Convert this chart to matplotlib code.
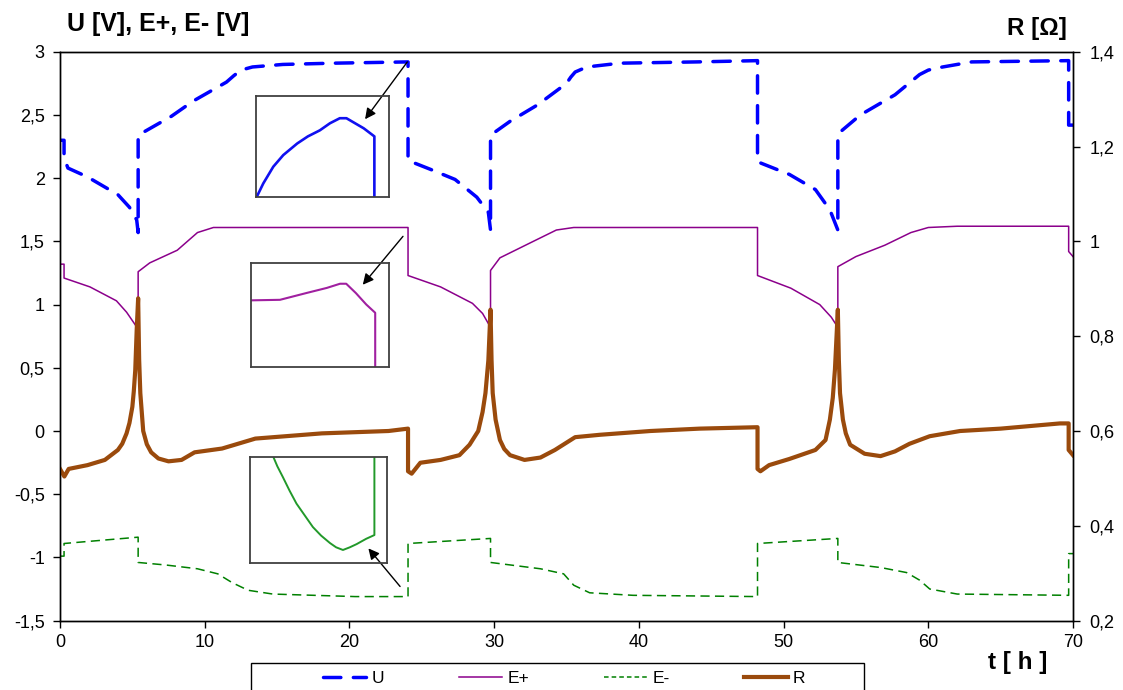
import matplotlib
matplotlib.use("Agg")
import matplotlib.pyplot as plt
from matplotlib.ticker import FuncFormatter, MultipleLocator
from matplotlib.patches import Rectangle
from matplotlib.lines import Line2D

plt.rcParams['font.family'] = ['Liberation Sans', 'DejaVu Sans']

# ---------------- data (t in hours) ----------------
U_t = [0, 0.28, 0.28, 0.55, 1.9, 4.0, 4.8, 5.3, 5.4, 5.4, 7.7, 9.2, 11.5, 12.0, 12.5, 13.3, 15.4, 18.9,
       24.05, 24.05, 25.6, 27.3, 28.8, 29.6, 29.75, 29.75, 31.1, 33.0, 35.0, 35.3, 35.6, 36.4, 38.7, 44,
       48.2, 48.2, 50.4, 52.2, 53.2, 53.75, 53.75, 55.3, 57.7, 59.4, 60.0, 60.5, 63, 69.7, 69.7, 70]
U_v = [2.30, 2.30, 2.16, 2.08, 2.01, 1.87, 1.77, 1.67, 1.57, 2.34, 2.49, 2.61, 2.76, 2.81, 2.855, 2.88, 2.90, 2.91,
       2.92, 2.14, 2.07, 1.99, 1.85, 1.73, 1.59, 2.34, 2.45, 2.58, 2.75, 2.80, 2.84, 2.88, 2.91, 2.92,
       2.93, 2.13, 2.03, 1.91, 1.75, 1.59, 2.35, 2.50, 2.66, 2.82, 2.855, 2.87, 2.92, 2.93, 2.42, 2.42]

Ep_t = [0, 0.28, 0.28, 2.07, 3.9, 4.6, 5.2, 5.4, 5.4, 6.2, 8.1, 9.5, 10.6, 12, 24.05, 24.05,
        26.3, 28.5, 29.2, 29.6, 29.75, 29.75, 30.4, 32.7, 34.3, 35.5, 37, 48.2, 48.2, 50.5,
        52.5, 53.3, 53.75, 53.75, 55, 57, 58.8, 60, 62, 69.7, 69.7, 70]
Ep_v = [1.32, 1.32, 1.21, 1.14, 1.03, 0.94, 0.84, 0.80, 1.26, 1.33, 1.43, 1.57, 1.61, 1.61, 1.61, 1.23,
        1.14, 1.01, 0.93, 0.85, 0.82, 1.27, 1.37, 1.50, 1.59, 1.61, 1.61, 1.61, 1.23, 1.13,
        1.00, 0.90, 0.82, 1.30, 1.38, 1.47, 1.57, 1.61, 1.62, 1.62, 1.42, 1.38]

Em_t = [0, 0.28, 0.28, 5.4, 5.4, 7.3, 9.5, 10.9, 11.9, 13.0, 14.7, 20.4, 24.05, 24.05, 29.75, 29.75,
        33.2, 34.8, 35.5, 36.6, 39.6, 48.2, 48.2, 53.75, 53.75, 56.7, 58.5, 59.4, 60.1, 62, 69.7, 69.7, 70]
Em_v = [-0.99, -0.99, -0.89, -0.84, -1.04, -1.06, -1.09, -1.13, -1.20, -1.26, -1.29, -1.31, -1.31, -0.89, -0.85, -1.04,
        -1.09, -1.13, -1.22, -1.28, -1.30, -1.31, -0.89, -0.85, -1.04, -1.08, -1.12, -1.18, -1.25, -1.29, -1.30, -0.97, -0.97]

R_t = [0, 0.3, 0.6, 1.9, 3.1, 4.0, 4.3, 4.6, 4.8, 5.0, 5.1, 5.2, 5.3, 5.4, 5.47, 5.55, 5.75, 6.0, 6.3, 6.8,
       7.5, 8.4, 9.3, 11.2, 13.5, 18.1, 22.7, 24.05, 24.05, 24.3, 24.9, 26.3, 27.6, 28.3, 28.9, 29.2,
       29.4, 29.6, 29.75, 29.82, 29.9, 30.1, 30.4, 30.7, 31.1, 32.1, 33.2, 34.2, 35.6, 37.3, 40.8, 44.2,
       48.2, 48.2, 48.4, 49.0, 50.4, 52.2, 52.9, 53.2, 53.4, 53.55, 53.75, 53.82, 53.9, 54.1, 54.3, 54.6,
       55.6, 56.7, 57.7, 58.7, 60.1, 62.2, 65.0, 69.1, 69.7, 69.7, 70]
R_v = [0.520, 0.504, 0.520, 0.528, 0.539, 0.560, 0.573, 0.595, 0.617, 0.651, 0.684, 0.728, 0.813, 0.880,
       0.750, 0.680, 0.600, 0.572, 0.555, 0.542, 0.536, 0.539, 0.555, 0.563, 0.584, 0.595, 0.600, 0.605,
       0.515, 0.510, 0.533, 0.539, 0.549, 0.571, 0.600, 0.640, 0.680, 0.749, 0.856, 0.750, 0.680, 0.624,
       0.581, 0.562, 0.549, 0.539, 0.544, 0.560, 0.587, 0.592, 0.600, 0.605, 0.608, 0.520, 0.515, 0.528,
       0.541, 0.560, 0.581, 0.624, 0.670, 0.730, 0.856, 0.750, 0.680, 0.624, 0.595, 0.571, 0.552, 0.547,
       0.557, 0.573, 0.589, 0.600, 0.605, 0.616, 0.616, 0.560, 0.549]

# zoomed insets (normalised inset coordinates)
in1_x = [0.005, 0.055, 0.13, 0.205, 0.31, 0.39, 0.48, 0.556, 0.63, 0.68, 0.81, 0.89, 0.89]
in1_y = [0.0, 0.135, 0.30, 0.415, 0.53, 0.60, 0.66, 0.73, 0.78, 0.78, 0.68, 0.60, 0.0]
in2_x = [0.005, 0.21, 0.40, 0.55, 0.645, 0.69, 0.76, 0.835, 0.90, 0.90]
in2_y = [0.64, 0.645, 0.71, 0.76, 0.80, 0.80, 0.71, 0.60, 0.52, 0.0]
in3_x = [0.17, 0.20, 0.24, 0.29, 0.34, 0.40, 0.46, 0.52, 0.585, 0.63, 0.68, 0.73, 0.78, 0.85, 0.91, 0.91]
in3_y = [1.0, 0.91, 0.81, 0.68, 0.56, 0.45, 0.34, 0.26, 0.19, 0.15, 0.125, 0.15, 0.18, 0.23, 0.265, 1.0]

labels = ['U', 'E+', 'E-', 'R']
x_ticks = [0, 10, 20, 30, 40, 50, 60, 70]

# ---------------- styles ----------------
C_U, C_EP, C_EM, C_R = '#0000FF', '#8B008B', '#008000', '#9A4A0C'

W, H = 1123, 690
fig = plt.figure(figsize=(W / 100, H / 100), dpi=100)
ax = fig.add_axes([60 / W, 1 - 620.6 / H, (1073 - 60) / W, (620.6 - 51.8) / H])
ax2 = ax.twinx()

lU, = ax.plot(U_t, U_v, color=C_U, lw=2.5, dash_capstyle='round')
lU.set_dashes([5, 3.6])
lEp, = ax.plot(Ep_t, Ep_v, color=C_EP, lw=1.1)
lEm, = ax.plot(Em_t, Em_v, color=C_EM, lw=1.1)
lEm.set_dashes([6, 3.5])
lR, = ax2.plot(R_t, R_v, color=C_R, lw=3.0, solid_joinstyle='round')

comma = FuncFormatter(lambda v, p: f"{v:g}".replace('.', ','))
ax.set_xlim(0, 70)
ax.set_ylim(-1.5, 3)
ax.set_xticks(x_ticks)
ax.yaxis.set_major_locator(MultipleLocator(0.5))
ax.yaxis.set_major_formatter(comma)
ax2.set_ylim(0.2, 1.4)
ax2.yaxis.set_major_locator(MultipleLocator(0.2))
ax2.yaxis.set_major_formatter(comma)

for a in (ax, ax2):
    for s in a.spines.values():
        s.set_linewidth(1.0)
        s.set_color('black')
ax.tick_params(axis='both', direction='out', length=5, width=1, labelsize=13, pad=6)
ax.tick_params(axis='x', pad=5)
ax2.tick_params(axis='y', direction='out', length=5, width=1, labelsize=13, pad=7)

# axis titles
fig.text(67 / W, 1 - 24 / H, 'U [V], E+, E- [V]', ha='left', va='center', fontsize=18, weight='bold')
fig.text(1067 / W, 1 - 28 / H, 'R [Ω]', ha='right', va='center', fontsize=17.5, weight='bold')
fig.text(1018 / W, 1 - 663 / H, 't [ h ]', ha='center', va='center', fontsize=17.5, weight='bold')

# insets
def make_inset(box, xs, ys, color, lw):
    x0, y0, x1, y1 = box
    ia = fig.add_axes([x0 / W, 1 - y1 / H, (x1 - x0) / W, (y1 - y0) / H])
    ia.set_facecolor('none')
    ia.plot(xs, ys, color=color, lw=lw, solid_joinstyle='round')
    ia.set_xlim(0, 1)
    ia.set_ylim(0, 1)
    ia.set_xticks([])
    ia.set_yticks([])
    for s in ia.spines.values():
        s.set_color('#404040')
        s.set_linewidth(1.3)
    return ia

ia1 = make_inset((256, 96, 389, 197), in1_x, in1_y, '#1010F0', 1.9)
ia2 = make_inset((251, 263, 389, 366.7), in2_x, in2_y, '#A020A0', 1.5)
ia3 = make_inset((250, 456.7, 386.7, 563.3), in3_x, in3_y, '#22992A', 1.4)

arrow = dict(arrowstyle='-|>', color='black', lw=1.0, mutation_scale=16, shrinkA=0, shrinkB=0)
ax.annotate('', xy=(0.82, 0.77), xycoords=ia1.transAxes, xytext=(24.0, 2.92), textcoords='data',
            arrowprops=arrow, annotation_clip=False)
ax.annotate('', xy=(0.81, 0.79), xycoords=ia2.transAxes, xytext=(23.7, 1.54), textcoords='data',
            arrowprops=arrow, annotation_clip=False)
ax.annotate('', xy=(0.866, 0.14), xycoords=ia3.transAxes, xytext=(23.5, -1.23), textcoords='data',
            arrowprops=arrow, annotation_clip=False)

# legend (frame box partly below the figure edge)
hU = Line2D([], [], color=C_U, lw=2.5, dash_capstyle='round')
hU.set_dashes([5, 3.6])
hEp = Line2D([], [], color=C_EP, lw=1.1)
hEm = Line2D([], [], color=C_EM, lw=1.1)
hEm.set_dashes([3, 2])
hR = Line2D([], [], color=C_R, lw=3.0)
fig.legend([hU, hEp, hEm, hR], labels, ncol=4, loc='center left',
           bbox_to_anchor=(323 / W, 1 - 678 / H), bbox_transform=fig.transFigure,
           frameon=False, fontsize=12.5, handlelength=2.5, handletextpad=0.3,
           columnspacing=4.3, borderpad=0, borderaxespad=0)
fig.add_artist(Rectangle((251 / W, -0.05), (864 - 251) / W, 0.05 + 1 - 663 / H,
                         transform=fig.transFigure, fill=False, edgecolor='black', lw=1.0))

fig.savefig('out.png', dpi=100)
